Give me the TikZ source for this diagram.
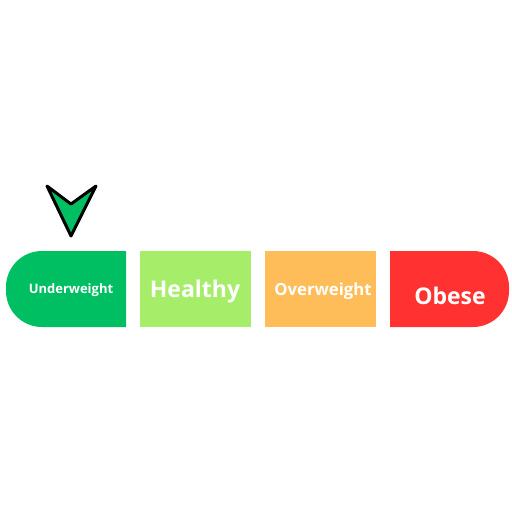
\documentclass[tikz,border=0pt]{standalone}
\usepackage{fontspec}
\setmainfont{Open Sans}
\usepackage{tikz}

\definecolor{underc}{HTML}{00BF63}
\definecolor{healthc}{HTML}{A6EE6A}
\definecolor{overc}{HTML}{FFBD59}
\definecolor{obesec}{HTML}{FF3131}

\tikzset{
  label/.style={text=white, font=\bfseries, inner sep=0pt},
}

\begin{document}
\begin{tikzpicture}[x=1pt,y=-1pt]
  \useasboundingbox (0,0) rectangle (512,512);

  \fill[underc] (126,251) [rounded corners=36pt] -- (6,251) -- (6,327) [sharp corners] -- (126,327) -- cycle;
  \fill[healthc] (140,251) rectangle (251,327);
  \fill[overc] (265,251) rectangle (376,327);
  \fill[obesec] (390,251) [rounded corners=36pt] -- (509,251) -- (509,327) [sharp corners] -- (390,327) -- cycle;

  \node [label, font=\bfseries\fontsize{13}{15}\selectfont] (U) at (71,290.5) {Underweight};
  \node [label, font=\bfseries\fontsize{23}{28}\selectfont] (H) at (195,292) {Healthy};
  \node [label, font=\bfseries\fontsize{16.7}{20}\selectfont] (O) at (323,291.5) {Overweight};
  \node [label, font=\bfseries\fontsize{23}{27}\selectfont] (B) at (450,296) {Obese};

  \filldraw[fill=underc, draw=black, line width=3pt, line join=round]
    (47,186) -- (71,204) -- (96,186) -- (71,236) -- cycle;
\end{tikzpicture}
\end{document}
